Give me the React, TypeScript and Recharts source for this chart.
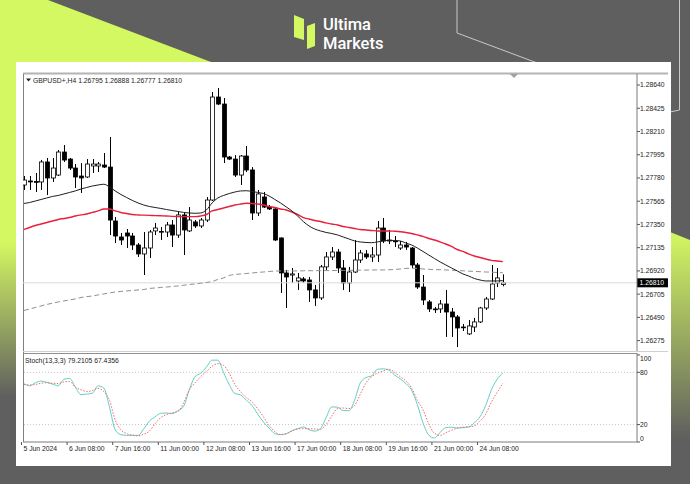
import React from "react";
import { ComposedChart, Bar, Line, XAxis, YAxis, ReferenceLine } from "recharts";

// GBPUSD H4 candles, 5 Jun 00:00 .. 25 Jun 00:00
const openP = [
  1.27715, 1.27752, 1.27747, 1.27743, 1.27928, 1.2778, 1.27807, 1.2802, 1.27955, 1.27872,
  1.27798, 1.27789, 1.27891, 1.27891, 1.279, 1.27881, 1.27382, 1.27234, 1.27271, 1.27243,
  1.2716, 1.27077, 1.27132, 1.2729, 1.2728, 1.2728, 1.27345, 1.27252, 1.27438, 1.2729,
  1.27373, 1.27336, 1.27391, 1.27576, 1.28529, 1.28464, 1.27974, 1.27955, 1.27807, 1.27983,
  1.27854, 1.27456, 1.27604, 1.27511, 1.27493, 1.27225, 1.26901, 1.26882, 1.26827, 1.26846,
  1.26836, 1.26744, 1.2667, 1.26957, 1.27049, 1.27095, 1.26947, 1.26809, 1.2691, 1.27021,
  1.27077, 1.27049, 1.27067, 1.27317, 1.27206, 1.27197, 1.27132, 1.2716, 1.27132, 1.26975,
  1.26771, 1.26633, 1.26568, 1.26568, 1.26614, 1.2654, 1.26494, 1.26401, 1.26337, 1.26401,
  1.26448, 1.26577, 1.2666, 1.26809, 1.26795,
];
const highP = [
  1.27798, 1.27798, 1.27826, 1.27946, 1.27965, 1.27965, 1.28039, 1.28085, 1.27965, 1.27909,
  1.27918, 1.27955, 1.27955, 1.27928, 1.28011, 1.28159, 1.27419, 1.27271, 1.27308, 1.27271,
  1.27178, 1.2728, 1.27299, 1.27364, 1.27326, 1.27373, 1.27391, 1.27465, 1.27465, 1.27511,
  1.27391, 1.2741, 1.27604, 1.28575, 1.28612, 1.2852, 1.27983, 1.27992, 1.27992, 1.28076,
  1.27881, 1.27669, 1.2765, 1.2753, 1.27502, 1.2723, 1.26929, 1.26947, 1.26901, 1.26864,
  1.26864, 1.2679, 1.26975, 1.27095, 1.27141, 1.27123, 1.27021, 1.26957, 1.27206, 1.27114,
  1.27114, 1.27141, 1.27382, 1.2741, 1.27299, 1.27243, 1.27197, 1.27188, 1.27141, 1.26994,
  1.26882, 1.26651, 1.26587, 1.26651, 1.26744, 1.26577, 1.26512, 1.26429, 1.26466, 1.26485,
  1.26587, 1.26679, 1.26975, 1.26947, 1.26888,
];
const lowP = [
  1.27669, 1.27669, 1.2765, 1.27669, 1.27622, 1.27743, 1.27798, 1.27928, 1.27854, 1.27687,
  1.27641, 1.2778, 1.27826, 1.27835, 1.27872, 1.27252, 1.27178, 1.2716, 1.27132, 1.27114,
  1.27049, 1.26882, 1.2704, 1.27252, 1.27206, 1.27234, 1.27141, 1.27225, 1.27067, 1.2728,
  1.27317, 1.27317, 1.27373, 1.27567, 1.28455, 1.27918, 1.27946, 1.27789, 1.27715, 1.27835,
  1.27391, 1.27428, 1.27502, 1.27484, 1.27197, 1.26716, 1.26577, 1.26809, 1.26744, 1.26809,
  1.26633, 1.26596, 1.26651, 1.26929, 1.27021, 1.26901, 1.26744, 1.26725, 1.26901, 1.26994,
  1.2703, 1.27003, 1.27003, 1.27178, 1.27169, 1.27141, 1.27114, 1.27114, 1.26947, 1.26753,
  1.26605, 1.2654, 1.26531, 1.26531, 1.26309, 1.26309, 1.26216, 1.26364, 1.26327, 1.26355,
  1.26438, 1.26559, 1.26651, 1.26771, 1.26777,
];
const closeP = [
  1.27761, 1.27743, 1.27743, 1.27928, 1.2778, 1.27872, 1.2802, 1.27946, 1.27872, 1.27789,
  1.2778, 1.27909, 1.27909, 1.27909, 1.27881, 1.27391, 1.27243, 1.27206, 1.27243, 1.2716,
  1.27077, 1.27132, 1.2728, 1.27317, 1.27285, 1.27345, 1.27252, 1.27438, 1.27299, 1.27391,
  1.27336, 1.27391, 1.27576, 1.28529, 1.28464, 1.27974, 1.27955, 1.27807, 1.27983, 1.27854,
  1.27456, 1.27632, 1.27511, 1.27493, 1.27206, 1.26901, 1.26864, 1.26892, 1.26855, 1.26827,
  1.26744, 1.2667, 1.26957, 1.27049, 1.27095, 1.26947, 1.26809, 1.2691, 1.27021, 1.27086,
  1.27049, 1.27067, 1.27317, 1.27197, 1.27197, 1.27192, 1.2716, 1.27141, 1.26975, 1.26771,
  1.26651, 1.26568, 1.26563, 1.26614, 1.2654, 1.26494, 1.26392, 1.26397, 1.26411, 1.26448,
  1.26577, 1.2666, 1.26799, 1.26855, 1.2681,
];

// moving averages
const maFast = [
  1.27544, 1.27553, 1.27567, 1.27581, 1.27595, 1.27609, 1.27618, 1.27632, 1.27646, 1.2766,
  1.27678, 1.27692, 1.27706, 1.27715, 1.27722, 1.27697, 1.2766, 1.27627, 1.27599, 1.27572,
  1.27549, 1.2753, 1.27516, 1.27507, 1.27498, 1.27488, 1.27479, 1.2747, 1.27461, 1.27456,
  1.27453, 1.27456, 1.27484, 1.27549, 1.27595, 1.27618, 1.27636, 1.2765, 1.2766, 1.27662,
  1.27655, 1.27646, 1.27636, 1.27613, 1.27581, 1.27549, 1.27512, 1.27475, 1.27428, 1.27377,
  1.27336, 1.27308, 1.2729, 1.27276, 1.27266, 1.27253, 1.27234, 1.27216, 1.27197, 1.27188,
  1.27183, 1.27181, 1.27188, 1.27197, 1.27202, 1.27202, 1.27197, 1.27178, 1.2716, 1.27132,
  1.271, 1.27067, 1.27035, 1.27003, 1.26975, 1.26947, 1.2692, 1.26892, 1.26873, 1.2685,
  1.26836, 1.26827, 1.26827, 1.26827, 1.2683,
];
const maMid = [
  1.27303, 1.27322, 1.2734, 1.27354, 1.27368, 1.27382, 1.27396, 1.27405, 1.27414, 1.27428,
  1.27438, 1.27447, 1.27461, 1.27475, 1.27493, 1.27493, 1.27475, 1.27461, 1.27451, 1.27442,
  1.27438, 1.27436, 1.27434, 1.27432, 1.2743, 1.27428, 1.27425, 1.27423, 1.27422, 1.27422,
  1.27422, 1.27428, 1.27442, 1.27475, 1.27488, 1.27502, 1.27516, 1.2753, 1.27539, 1.27546,
  1.27544, 1.27539, 1.2753, 1.27516, 1.27507, 1.27493, 1.27484, 1.27465, 1.27442, 1.27414,
  1.274, 1.27387, 1.27377, 1.27364, 1.27354, 1.27345, 1.27331, 1.27322, 1.27313, 1.27303,
  1.27299, 1.27294, 1.2729, 1.2729, 1.2729, 1.27287, 1.27283, 1.27276, 1.27266, 1.27253,
  1.27239, 1.2722, 1.27206, 1.27188, 1.27169, 1.27146, 1.27118, 1.271, 1.27077, 1.27058,
  1.27044, 1.2703, 1.27017, 1.27012, 1.27006,
];
const maSlow = [
  1.26554, 1.26568, 1.26582, 1.26596, 1.2661, 1.26621, 1.26633, 1.26642, 1.26651, 1.26661,
  1.26674, 1.26682, 1.26688, 1.26698, 1.26707, 1.26716, 1.26725, 1.2673, 1.26735, 1.26739,
  1.26744, 1.26748, 1.26758, 1.26762, 1.26767, 1.26771, 1.26776, 1.26781, 1.26787, 1.26795,
  1.26799, 1.26806, 1.26813, 1.26822, 1.26841, 1.26855, 1.26878, 1.26887, 1.26892, 1.26896,
  1.26901, 1.26906, 1.2691, 1.26915, 1.26918, 1.2692, 1.2692, 1.2692, 1.2692, 1.26921,
  1.26922, 1.26922, 1.26923, 1.26923, 1.26923, 1.26924, 1.26925, 1.26925, 1.26926, 1.26927,
  1.26928, 1.26929, 1.26929, 1.26929, 1.26931, 1.26933, 1.26938, 1.26943, 1.26945, 1.26943,
  1.26938, 1.26935, 1.26932, 1.26931, 1.26929, 1.26927, 1.26924, 1.26921, 1.26918, 1.26915,
  1.26913, 1.2691, 1.26908, 1.26906, 1.26903,
];

// Stoch(13,3,3)
const stochK = [
  67, 64.5, 68, 70, 68.5, 66.5, 64.5, 72, 73, 63,
  54.5, 55, 56, 64.5, 62, 40, 14, 8.4, 7.6, 7.6,
  7.6, 15, 24, 29, 33, 33.3, 32.5, 36, 41, 60,
  75, 79, 86, 94, 94, 80, 66, 55.7, 54, 48,
  42, 32, 23, 16, 9.6, 8.5, 9.5, 13, 15.3, 17.2,
  14, 12.5, 15.3, 28, 40.3, 40, 36, 36, 48, 68,
  74, 76, 83.5, 84, 82.6, 77, 72.5, 67, 59.5, 43,
  22, 8, 4.5, 11, 16.5, 17, 16, 16.5, 17.2, 22,
  29, 42, 60, 72, 79.2105,
];
const stochD = [
  66, 65.5, 66, 67.5, 68, 67.5, 67, 69, 69.5, 63,
  60, 58, 59, 61.6, 58, 48, 25, 14, 9.6, 8,
  7, 9, 12.5, 21, 28, 31.5, 33.5, 35, 45, 60,
  68, 75, 81, 87, 90, 88, 79, 66, 57.7, 51,
  46, 38, 29, 19, 12, 8.5, 9.5, 12.5, 15, 15.3,
  15.3, 15, 14.6, 20, 30, 38.5, 39, 38.4, 42, 55,
  68, 75, 79, 81.4, 83.7, 80, 75, 70, 62, 48,
  37, 21, 10, 7.5, 10.7, 13.5, 16, 17, 17.5, 18.5,
  24, 32, 46, 57, 67.4356,
];

const priceTicks = [1.2864, 1.28425, 1.2821, 1.27995, 1.2778, 1.27565, 1.2735, 1.27135, 1.2692, 1.26705, 1.2649, 1.26275];
const stochTicks = [0, 20, 80, 100];
const timeTickBars = [0, 8, 16, 24, 32, 40, 48, 56, 64, 72, 80];
const timeLabels = [
  "5 Jun 2024", "6 Jun 08:00", "7 Jun 16:00", "11 Jun 00:00", "12 Jun 08:00", "13 Jun 16:00",
  "17 Jun 00:00", "18 Jun 08:00", "19 Jun 16:00", "21 Jun 00:00", "24 Jun 08:00",
];

const data = openP.map((o, i) => ({
  i,
  open: o,
  high: highP[i],
  low: lowP[i],
  close: closeP[i],
  maFast: maFast[i],
  maMid: maMid[i],
  maSlow: maSlow[i],
  k: stochK[i],
  d: stochD[i],
}));

const last = data[data.length - 1];
const FONT = "'Liberation Sans', Arial, sans-serif";
const LIME = "#d4f862";
const GREY = "#5f5f5f";
const X_DOMAIN: [number, number] = [-0.175, 107.54];

const Candle = (props: any) => {
  const { x, y, width, height, payload } = props;
  if (x == null || y == null || !payload) return null;
  const { open, close, high, low } = payload;
  const top = Math.min(y, y + height);
  const span = Math.abs(height);
  const k = high > low ? span / (high - low) : 0;
  const cx = Math.round(x + width / 2) + 0.5;
  const bTop = top + (high - Math.max(open, close)) * k;
  const bBot = top + (high - Math.min(open, close)) * k;
  const up = close > open;
  return (
    <g>
      <line x1={cx} x2={cx} y1={top} y2={top + span} stroke="#000" strokeWidth={1} />
      <rect
        x={cx - 2}
        y={bTop}
        width={4}
        height={Math.max(bBot - bTop, 0.8)}
        fill={up ? "#fff" : "#000"}
        stroke="#000"
        strokeWidth={0.8}
      />
    </g>
  );
};

const PriceTick = ({ x, y, payload }: any) => (
  <text x={x} y={y + 2.4} fontSize={6.8} fontFamily={FONT} fill="#222">
    {payload.value.toFixed(5)}
  </text>
);

const StochTick = ({ x, y, payload }: any) => {
  const shift = payload.value === 100 ? 4 : payload.value === 0 ? -3.4 : 0;
  return (
    <text x={x} y={y + 2.4 + shift} fontSize={6.8} fontFamily={FONT} fill="#222">
      {payload.value}
    </text>
  );
};

const TimeTick = ({ x, y, payload }: any) => {
  const idx = timeTickBars.indexOf(payload.value);
  return (
    <g>
      <line x1={x - 2.5} x2={x - 2.5} y1={y} y2={y + 3} stroke="#555" />
      <text x={x - 0.5} y={y + 8.5} fontSize={6.8} fontFamily={FONT} fill="#222">
        {timeLabels[idx]}
      </text>
    </g>
  );
};

const LastPriceLabel = ({ viewBox }: any) => {
  if (!viewBox) return null;
  const x0 = viewBox.x + viewBox.width;
  return (
    <g>
      <rect x={x0} y={viewBox.y - 4.5} width={31} height={9} fill="#000" />
      <text x={x0 + 2.5} y={viewBox.y + 2.4} fontSize={6.8} fontFamily={FONT} fill="#fff">
        {last.close.toFixed(5)}
      </text>
    </g>
  );
};

function Backdrop() {
  return (
    <svg width={690} height={484} style={{ position: "absolute", left: 0, top: 0 }}>
      <defs>
        <linearGradient id="leftFade" x1="0" y1="0" x2="0" y2="1">
          <stop offset="0.5" stopColor={LIME} />
          <stop offset="0.82" stopColor={GREY} />
        </linearGradient>
        <linearGradient id="rightFade" x1="0" y1="0" x2="0" y2="1">
          <stop offset="0.05" stopColor={LIME} />
          <stop offset="0.95" stopColor={GREY} />
        </linearGradient>
      </defs>
      <rect width={690} height={484} fill={GREY} />
      <rect x={0} y={0} width={20} height={484} fill="url(#leftFade)" />
      <polygon points="0,0 48,0 232,70 0,70" fill={LIME} />
      <polygon points="640,220 690,240 690,450 640,450" fill="url(#rightFade)" />
      <polyline points="457,0 457,33 540,64" fill="none" stroke="#c9c9c9" strokeWidth={1} />
      <polyline points="679.5,0 679.5,110 670,112" fill="none" stroke="#c9c9c9" strokeWidth={1} />

      {/* logo */}
      <polygon points="294,15 304,19 304,40 294,37" fill={LIME} />
      <polygon points="307,26 315,23 315,46 307,49" fill={LIME} />
      <text x={323} y={30} fontSize={16.5} fontFamily="Roboto, sans-serif" fontWeight={500} fill="#fff">
        Ultima
      </text>
      <text x={323} y={49} fontSize={16.5} fontFamily="Roboto, sans-serif" fontWeight={500} fill="#fff">
        Markets
      </text>

      {/* white terminal panel */}
      <rect x={16} y={62} width={655} height={404} fill="#fff" />
      <rect x={23} y={72.5} width={645} height={2} fill="#b4b4b4" />
      <line x1={23.5} x2={23.5} y1={74} y2={442} stroke="#808080" />
      <line x1={23} x2={668} y1={351.5} y2={351.5} stroke="#d0d0d0" />
      <line x1={23} x2={637} y1={353.5} y2={353.5} stroke="#909090" />
      <polygon points="510,74 518,74 514,78" fill="#a0a0a0" />

      <polygon points="26,78.5 31,78.5 28.5,81.5" fill="#222" />
      <text x={33} y={82.5} fontSize={6.8} fontFamily={FONT} fill="#222">
        {`GBPUSD+,H4  ${last.open.toFixed(5)} ${last.high.toFixed(5)} ${last.low.toFixed(5)} ${last.close.toFixed(5)}`}
      </text>
      <text x={25} y={362.5} fontSize={6.8} fontFamily={FONT} fill="#222">
        {`Stoch(13,3,3) ${last.k.toFixed(4)} ${last.d.toFixed(4)}`}
      </text>
    </svg>
  );
}

export default function App() {
  return (
    <div style={{ position: "absolute", left: 0, top: 0, width: 690, height: 484, overflow: "hidden" }}>
      <Backdrop />
      <div style={{ position: "absolute", left: 0, top: 0 }}>
        <ComposedChart width={690} height={484} data={data} margin={{ top: 74, right: 20, bottom: 133, left: 23 }}>
          <XAxis dataKey="i" type="number" domain={X_DOMAIN} allowDataOverflow hide />
          <YAxis
            orientation="right"
            width={33}
            domain={[1.26179, 1.28742]}
            allowDataOverflow
            ticks={priceTicks}
            interval={0}
            tick={<PriceTick />}
            tickSize={3}
            tickMargin={0}
            tickLine={{ stroke: "#555" }}
            axisLine={{ stroke: "#7a7a7a" }}
          />
          <ReferenceLine y={last.close} stroke="#dadada" label={<LastPriceLabel />} />
          <Line dataKey="maSlow" type="monotone" stroke="#8f8f8f" strokeWidth={1} strokeDasharray="5 3" dot={false} isAnimationActive={false} />
          <Bar dataKey={(d: any) => [d.low, d.high]} barSize={4} shape={<Candle />} isAnimationActive={false} />
          <Line dataKey="maMid" type="monotone" stroke="#e8203c" strokeWidth={1.4} dot={false} isAnimationActive={false} />
          <Line dataKey="maFast" type="monotone" stroke="#1e1e1e" strokeWidth={1} dot={false} isAnimationActive={false} />
        </ComposedChart>
      </div>
      <div style={{ position: "absolute", left: 0, top: 0 }}>
        <ComposedChart width={690} height={484} data={data} margin={{ top: 353, right: 20, bottom: 28, left: 23 }}>
          <XAxis
            dataKey="i"
            type="number"
            domain={X_DOMAIN}
            allowDataOverflow
            ticks={timeTickBars}
            interval={0}
            height={14}
            tickSize={0}
            tickMargin={0}
            tickLine={false}
            tick={<TimeTick />}
            axisLine={{ stroke: "#7a7a7a" }}
          />
          <YAxis
            orientation="right"
            width={33}
            domain={[0, 102.2]}
            allowDataOverflow
            ticks={stochTicks}
            interval={0}
            tick={<StochTick />}
            tickSize={3}
            tickMargin={0}
            tickLine={{ stroke: "#555" }}
            axisLine={{ stroke: "#7a7a7a" }}
          />
          <ReferenceLine y={80} stroke="#c4c4c4" strokeDasharray="1 2" />
          <ReferenceLine y={20} stroke="#c4c4c4" strokeDasharray="1 2" />
          <Line dataKey="k" type="monotone" stroke="#62cfc5" strokeWidth={1} dot={false} isAnimationActive={false} />
          <Line dataKey="d" type="monotone" stroke="#f26a6a" strokeWidth={1} strokeDasharray="1.5 1.5" dot={false} isAnimationActive={false} />
        </ComposedChart>
      </div>
    </div>
  );
}
